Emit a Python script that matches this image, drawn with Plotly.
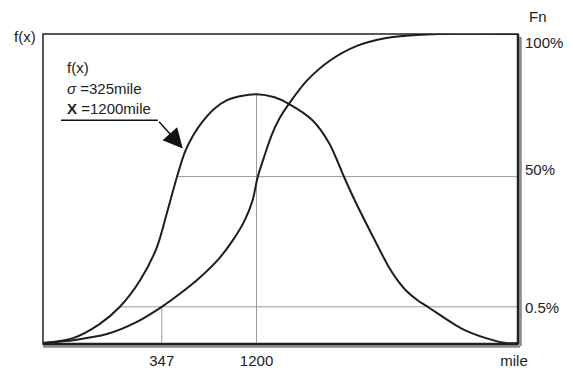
import plotly.graph_objects as go

# ---- data (x in miles, schematic; y as fraction of plot height) ----
bell_x = [-722, -452, -210, -30, 149, 302, 392, 482, 554, 625, 715, 823, 931, 1047, 1200,
          1362, 1478, 1703, 1855, 1990, 2080, 2242, 2394, 2466, 2547, 2646, 2753, 3050, 3265, 3445, 3553]
bell_y = [0.003, 0.019, 0.065, 0.120, 0.204, 0.311, 0.421, 0.537, 0.618, 0.670, 0.718, 0.760, 0.786, 0.799, 0.806,
          0.796, 0.777, 0.722, 0.647, 0.537, 0.466, 0.350, 0.246, 0.207, 0.172, 0.142, 0.117, 0.049, 0.019, 0.003, 0.003]

cum_x = [-722, -434, -147, 105, 347, 509, 688, 868, 1002, 1092, 1164, 1209, 1272, 1335, 1407,
         1496, 1649, 1855, 2098, 2367, 2637, 2843, 3553]
cum_y = [0.003, 0.013, 0.032, 0.068, 0.120, 0.162, 0.214, 0.278, 0.343, 0.398, 0.463, 0.537, 0.608, 0.673, 0.728,
         0.777, 0.848, 0.913, 0.961, 0.987, 0.997, 1.0, 1.0]

# reference lines
h50_x, h50_y = [482, 3553], [0.540, 0.540]
h05_x, h05_y = [-30, 3553], [0.120, 0.120]
v347_x, v347_y = [347, 347], [0, 0.120]
v1200_x, v1200_y = [1200, 1200], [0, 0.806]

x_ticks = [347, 1200, 3517]
x_ticktext = ["347", "1200", "mile"]
fn_ticks = [0.971, 0.563, 0.117]
fn_ticktext = ["100%", "50%", "0.5%"]

X_RANGE = [-722, 3553]

FONT = "Liberation Sans, Arial, sans-serif"
FS = 15
TXT = "#222222"
GRID = "#9a9a9a"
CURVE = "#1e1e1e"

fig = go.Figure()
for xs, ys in [(h50_x, h50_y), (h05_x, h05_y), (v347_x, v347_y), (v1200_x, v1200_y)]:
    fig.add_trace(go.Scatter(x=xs, y=ys, mode="lines", line=dict(color=GRID, width=1),
                             hoverinfo="skip", showlegend=False))
fig.add_trace(go.Scatter(x=bell_x, y=bell_y, mode="lines", name="f(x)",
                         line=dict(color=CURVE, width=2, shape="spline", smoothing=0.8),
                         showlegend=False))
fig.add_trace(go.Scatter(x=cum_x, y=cum_y, mode="lines", name="Fn",
                         line=dict(color=CURVE, width=2, shape="spline", smoothing=0.8),
                         showlegend=False))
# invisible trace for the right axis
fig.add_trace(go.Scatter(x=[X_RANGE[0]], y=[0], yaxis="y2", mode="markers",
                         marker=dict(opacity=0), hoverinfo="skip", showlegend=False))

# page body has an 8px margin, so the figure is drawn 8px in from the window corner
W, H = 565, 363
L, R, T, B = 35, 55, 26, 27
pw, ph = W - L - R, H - T - B

shapes = [
    # shadow lines (bottom & right)
    dict(type="line", xref="paper", yref="paper", x0=0.0, x1=1 + 2 / pw, y0=-2.5 / ph, y1=-2.5 / ph,
         line=dict(color="#8a8a8a", width=2.5)),
    dict(type="line", xref="paper", yref="paper", x0=1 + 2.5 / pw, x1=1 + 2.5 / pw, y0=-2 / ph, y1=0.99,
         line=dict(color="#8a8a8a", width=2.5)),
    dict(type="rect", xref="paper", yref="paper", x0=0, x1=1, y0=0, y1=1,
         line=dict(color="#222222", width=1.5)),
    dict(type="line", xref="paper", yref="paper", x0=0, x1=1, y0=0, y1=0,
         line=dict(color="#222222", width=2.5)),
    dict(type="line", xref="paper", yref="paper", x0=1, x1=1, y0=0, y1=1,
         line=dict(color="#222222", width=2.5)),
    # annotation leader line
    dict(type="line", xref="x", yref="y", x0=-560, x1=311, y0=0.722, y1=0.722,
         line=dict(color="#111111", width=1.5)),
]

annotations = [
    dict(x=536, y=0.631, ax=311, ay=0.722, xref="x", yref="y", axref="x", ayref="y",
         text="", showarrow=True, arrowhead=2, arrowsize=2.6, arrowwidth=1.5, arrowcolor="#111111",
         standoff=0),
    dict(x=-525, y=0.893, xref="x", yref="y", text="f(x)", showarrow=False,
         xanchor="left", yanchor="middle", font=dict(family=FONT, size=FS, color=TXT)),
    dict(x=-525, y=0.825, xref="x", yref="y", text="<i>σ</i> =325mile", showarrow=False,
         xanchor="left", yanchor="middle", font=dict(family=FONT, size=FS, color=TXT)),
    dict(x=-525, y=0.761, xref="x", yref="y", text="<b>X</b> =1200mile", showarrow=False,
         xanchor="left", yanchor="middle", font=dict(family=FONT, size=FS, color=TXT)),
    dict(x=-18 / pw, y=(344 - 37) / ph, xref="paper", yref="paper", text="f(x)", showarrow=False,
         xanchor="center", yanchor="middle", font=dict(family=FONT, size=FS, color=TXT)),
    dict(x=(538 - 43) / pw, y=(344 - 17) / ph, xref="paper", yref="paper", text="Fn", showarrow=False,
         xanchor="center", yanchor="middle", font=dict(family=FONT, size=FS, color=TXT)),
]

fig.update_layout(
    template="none",
    width=W, height=H,
    margin=dict(l=L, r=R, t=T, b=B, pad=0),
    paper_bgcolor="white", plot_bgcolor="white",
    font=dict(family=FONT, size=FS, color=TXT),
    xaxis=dict(range=X_RANGE, showgrid=False, zeroline=False, showline=False, automargin=False,
               tickvals=x_ticks, ticktext=x_ticktext, ticks="", ticklabelstandoff=6,
               tickfont=dict(family=FONT, size=FS, color=TXT)),
    yaxis=dict(range=[0, 1], showgrid=False, zeroline=False, showline=False, automargin=False,
               showticklabels=False, ticks=""),
    yaxis2=dict(range=[0, 1], overlaying="y", side="right", showgrid=False, zeroline=False,
                showline=False, automargin=False, tickvals=fn_ticks, ticktext=fn_ticktext, ticks="",
                ticklabelstandoff=6, tickfont=dict(family=FONT, size=FS, color=TXT)),
    shapes=shapes,
    annotations=annotations,
)

fig.write_html("out.html")
